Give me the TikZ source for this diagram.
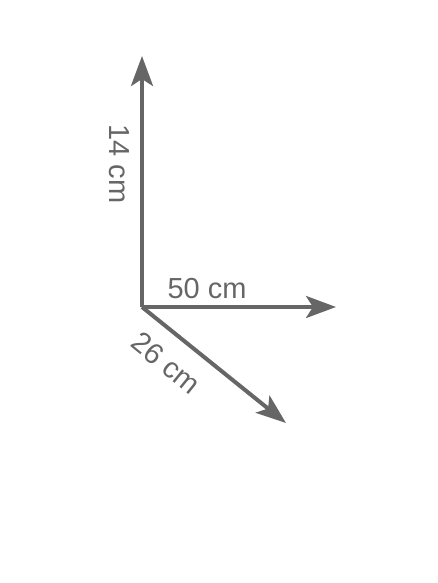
\documentclass[tikz,border=0pt]{standalone}
\usepackage{fontspec}
\setmainfont{Liberation Sans}
\usetikzlibrary{arrows.meta}
\definecolor{vecgray}{HTML}{666666}
\tikzset{
  vec/.style={draw=vecgray, line width=4pt, -{Stealth[length=30pt, width=22pt, inset=7pt]}},
  lbl/.style={text=vecgray, font=\fontsize{29}{32}\selectfont, inner sep=0pt}
}
\begin{document}
\begin{tikzpicture}[x=1pt, y=-1pt]
\useasboundingbox (0,0) rectangle (437,583);
\coordinate (O) at (142,307);
\coordinate (U) at (142,56);
\coordinate (R) at (336,307);
\coordinate (D) at (286,423);
\draw[vec] (O) -- (U);
\draw[vec] (O) -- (R);
\draw[vec] (O) -- (D);
\node[lbl, rotate=-90] (l14) at (119,164) {14 cm};
\node[lbl] (l50) at (207,289) {50 cm};
\node[lbl, rotate=-39] (l26) at (166,363) {26 cm};
\end{tikzpicture}
\end{document}
